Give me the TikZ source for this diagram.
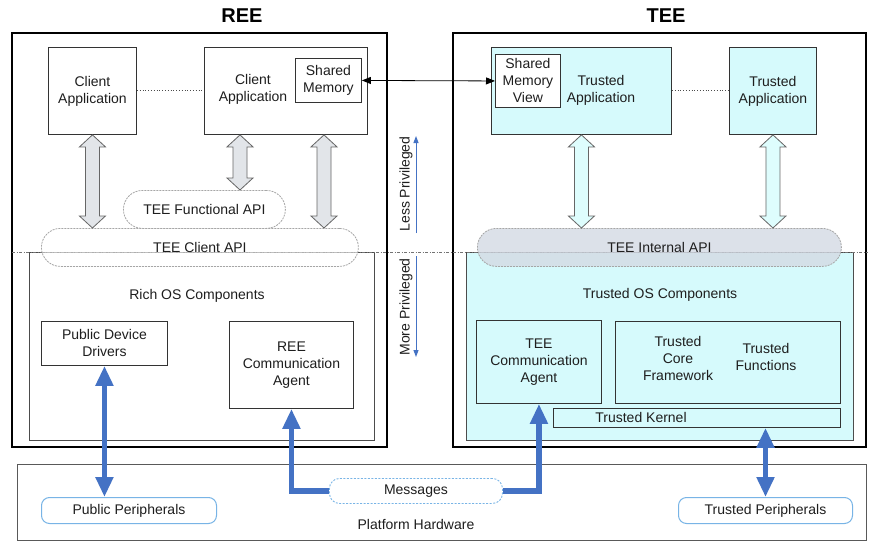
\documentclass[tikz,border=0pt]{standalone}
\usepackage{fontspec}
\setmainfont{Liberation Sans}
\usetikzlibrary{arrows.meta,calc}
\definecolor{cyanfill}{RGB}{214,250,252}
\definecolor{apigray}{RGB}{212,218,228}
\definecolor{arrgray}{RGB}{226,229,233}
\definecolor{arrcyan}{RGB}{222,253,253}
\definecolor{blueline}{RGB}{68,114,196}
\definecolor{lightblue}{RGB}{120,180,230}
\definecolor{txt}{RGB}{30,30,30}
\newcommand{\harrow}[3]{%
  \draw[hollow,fill=#3] let \p1=(#1), \p2=(#2) in
    (\x1,\y1) -- (\x1+13pt,\y1-12pt) -- (\x1+7pt,\y1-12pt) -- (\x1+7pt,\y2+12pt)
    -- (\x1+13pt,\y2+12pt) -- (\x1,\y2) -- (\x1-13pt,\y2+12pt) -- (\x1-7pt,\y2+12pt)
    -- (\x1-7pt,\y1-12pt) -- (\x1-13pt,\y1-12pt) -- cycle;}
\begin{document}
\begin{tikzpicture}[x=1pt,y=-1pt,
  every node/.style={font=\fontsize{14}{17}\selectfont, text=txt, inner sep=0pt},
  title/.style={font=\fontsize{20}{24}\selectfont\bfseries, text=black},
  outer/.style={draw=black, line width=2.5pt},
  osbox/.style={draw=black!70, line width=1.1pt, anchor=north west},
  box/.style={draw=black!80, line width=0.9pt, anchor=north west, align=center},
  lbl/.style={align=center},
  api/.style={draw=black!35, dash pattern=on 2pt off 1pt, line width=0.8pt, rounded corners=19pt, anchor=north west},
  hollow/.style={draw=black!60, line width=0.8pt, line join=miter},
  bluearr/.style={draw=blueline, line width=5.5pt, -{Triangle[length=20pt,width=17pt]}},
  bluedbl/.style={draw=blueline, line width=5.5pt, {Triangle[length=20pt,width=17pt]}-{Triangle[length=20pt,width=17pt]}},
  priv/.style={draw=blueline, line width=1pt, -{Triangle[length=7pt,width=5pt]}},
  periph/.style={draw=lightblue, line width=1pt, rounded corners=8pt, anchor=north west},
  dotline/.style={draw=black!70, dotted, line width=0.8pt}
]
\useasboundingbox (0,0) rectangle (884,554);
\fill[white] (0,0) rectangle (884,554);

% titles
\node[title] (reet) at (242,16) {REE};
\node[title] (teet) at (666,16) {TEE};

% outer boxes
\draw[outer] (12,33) rectangle (387,447);
\draw[outer] (453,33) rectangle (866,447);

% OS component boxes
\node[osbox, minimum width=345pt, minimum height=188pt] (richos) at (29,252) {};
\node[osbox, fill=cyanfill, minimum width=387pt, minimum height=188pt] (trustos) at (466,252) {};

% separator
\coordinate (sepl) at (12,252);
\coordinate (sepr) at (868,252);
\draw[black!55, line width=0.8pt, dash pattern=on 3pt off 1.5pt on 1pt off 1.5pt] (sepl) -- (sepr);

% API ellipses
\node[api, fill=white, fill opacity=0.6, minimum width=162pt, minimum height=38pt] (fapi) at (123,190) {};
\node at (fapi.center) (fapit) {TEE Functional API};
\node[api, fill=white, fill opacity=0.55, minimum width=317pt, minimum height=38pt] (capi) at (41,228) {};
\node at (capi.center) (capit) {TEE Client API};
\node[api, fill=apigray, fill opacity=0.8, minimum width=364pt, minimum height=38pt] (iapi) at (477,228) {};
\node at (iapi.center) (iapit) {TEE Internal API};

% REE apps
\node[box, minimum width=88pt, minimum height=87pt] (ca1) at (48,47) {Client\\Application};
\node[box, minimum width=163pt, minimum height=87pt] (ca2) at (204,47) {};
\node[lbl] (ca2t) at (253,89) {Client\\Application};
\node[box, minimum width=66pt, minimum height=44pt] (sm) at (295,58) {Shared\\Memory};

% TEE apps
\node[box, fill=cyanfill, minimum width=180pt, minimum height=87pt] (ta1) at (491,47) {};
\node[box, fill=white, minimum width=65pt, minimum height=53pt] (smv) at (495,54) {Shared\\Memory\\View};
\node[lbl] (ta1t) at (601,90) {Trusted\\Application};
\node[box, fill=cyanfill, minimum width=87pt, minimum height=87pt] (ta2) at (729,47) {Trusted\\Application};

% dotted links
\draw[dotline] (ca1.east |- 0,90) -- (ca2.west |- 0,90);
\draw[dotline] (ta1.east |- 0,90) -- (ta2.west |- 0,90);

% shared memory arrow
\draw[black, line width=0.8pt, {Triangle[length=9pt,width=7pt]}-{Triangle[length=9pt,width=7pt]}] (sm.east) -- (smv.west);

% hollow arrows
\coordinate (a2top) at ($(ca2.south west)+(36,0)$);
\coordinate (a3top) at ($(ca2.south west)+(120,0)$);
\harrow{ca1.south}{ca1.south |- capi.north}{arrgray}
\harrow{a2top}{a2top |- fapi.north}{arrgray}
\harrow{a3top}{a3top |- capi.north}{arrgray}
\harrow{ta1.south}{ta1.south |- iapi.north}{arrcyan}
\harrow{ta2.south}{ta2.south |- iapi.north}{arrcyan}

% privilege arrows
\coordinate (lp1) at (416,233);
\coordinate (lp2) at (416,136);
\coordinate (mp1) at (416,256);
\coordinate (mp2) at (416,357);
\draw[priv] (lp1) -- (lp2);
\draw[priv] (mp1) -- (mp2);
\node[rotate=90] (lpt) at (406,184) {Less Privileged};
\node[rotate=90] (mpt) at (406,307) {More Privileged};

% Rich OS contents
\node (richt) at (197,296) {Rich OS Components};
\node[box, minimum width=126pt, minimum height=44pt] (pdd) at (41,321) {Public Device\\Drivers};
\node[box, minimum width=124pt, minimum height=87pt] (reeca) at (229,321) {REE\\Communication\\Agent};

% Trusted OS contents
\node (trustt) at (660,295) {Trusted OS Components};
\node[box, minimum width=125pt, minimum height=83pt] (teeca) at (476,320) {TEE\\Communication\\Agent};
\node[box, minimum width=225pt, minimum height=82pt] (tcf) at (615,321) {};
\node[lbl] (tcft) at (678,358) {Trusted\\Core\\Framework};
\node[lbl] (tft) at (766,357) {Trusted\\Functions};
\node[box, minimum width=287pt, minimum height=19pt] (tk) at (553,408) {};
\node (tkt) at (641,417) {Trusted Kernel};

% platform hardware
\node[draw=black!65, line width=1pt, anchor=north west, minimum width=849pt, minimum height=76pt] (plat) at (17,464) {};
\node (platt) at (416,524) {Platform Hardware};
\node[periph, minimum width=175pt, minimum height=26pt] (pp) at (41,497) {};
\node at (pp.center) (ppt) {Public Peripherals};
\node[periph, minimum width=174pt, minimum height=26pt] (tp) at (678,497) {};
\node at (tp.center) (tpt) {Trusted Peripherals};
\node[draw=lightblue, dash pattern=on 2pt off 1.5pt, line width=0.9pt, rounded corners=10pt, anchor=north west, minimum width=173pt, minimum height=25pt] (msg) at (329,478) {};
\node at (msg.center) (msgt) {Messages};

% blue arrows
\draw[bluedbl] (pdd.south) -- (pdd.south |- pp.north);
\draw[bluedbl] (tp.north |- tk.south) -- (tp.north);
\draw[bluearr, line join=miter] (msg.west) -| (reeca.south);
\draw[bluearr, line join=miter] (msg.east) -| (teeca.south);
\end{tikzpicture}
\end{document}
